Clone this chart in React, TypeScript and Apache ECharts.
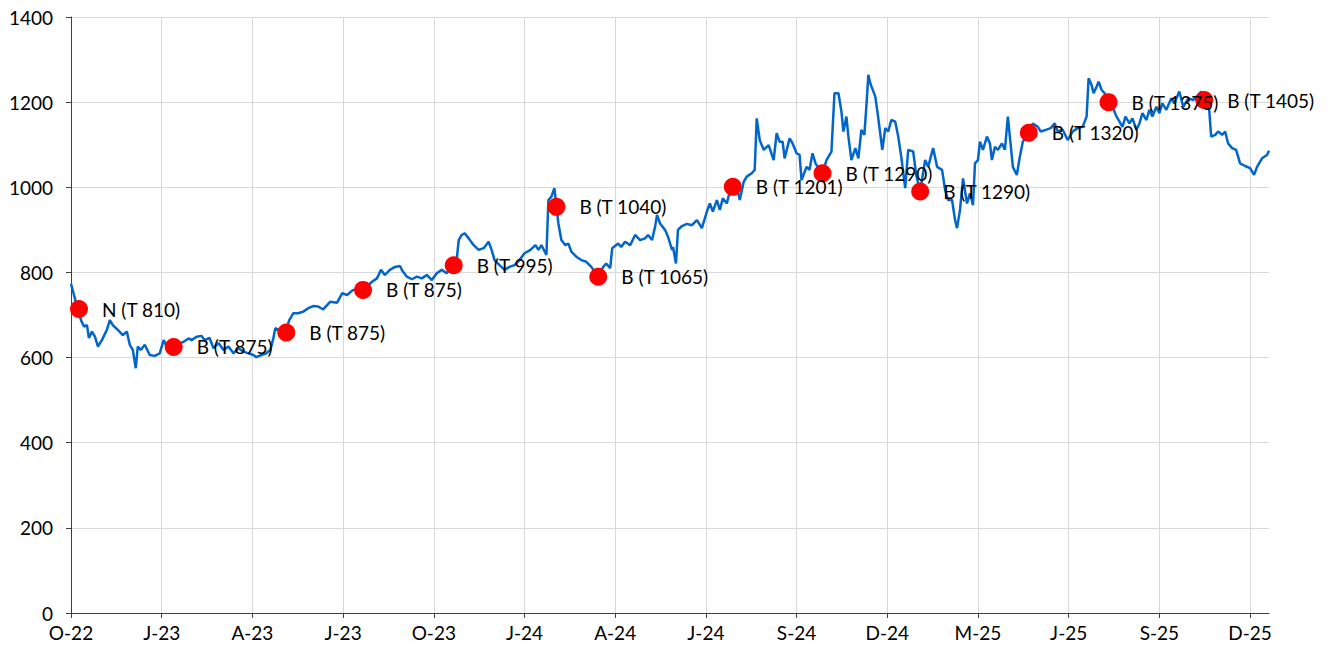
import React, { useEffect, useRef } from "react";
import * as echarts from "echarts";

// Day offsets counted from 2022-10-03 (the first axis tick, "O-22")
const START_UTC = Date.UTC(2022, 9, 3);
const TICK_DAYS = 91;
const X_MAX = 1202;
const MONTH_LETTERS = ["J", "F", "M", "A", "M", "J", "J", "A", "S", "O", "N", "D"];

const priceDays = [
  0, 3, 7, 10, 13, 16, 18, 21, 24, 27, 31, 36, 39, 42, 47, 52, 56, 59, 62, 65, 67, 70, 74, 79, 84, 89, 93, 96, 103,
  113, 118, 121, 126, 131, 134, 139, 143, 148, 153, 158, 163, 168, 173, 178, 183, 186, 191, 196, 200, 203, 205, 208,
  215, 219, 223, 228, 233, 238, 243, 248, 253, 260, 267, 272, 277, 283, 293, 302, 307, 311, 315, 320, 325, 330, 333,
  337, 342, 347, 352, 357, 362, 367, 372, 377, 384, 386, 389, 392, 395, 399, 404, 409, 414, 419, 422, 425, 430, 435,
  440, 445, 450, 455, 461, 466, 469, 472, 477, 479, 482, 485, 489, 492, 496, 499, 502, 507, 512, 517, 522, 529, 534,
  537, 541, 543, 549, 552, 556, 561, 566, 571, 576, 579, 583, 586, 588, 591, 596, 599, 603, 604, 607, 609, 613, 618,
  623, 628, 633, 638, 641, 644, 648, 651, 654, 658, 661, 664, 668, 671, 675, 678, 683, 686, 688, 691, 695, 700, 705,
  708, 711, 714, 716, 721, 724, 728, 731, 733, 738, 741, 744, 747, 754, 758, 763, 766, 770, 773, 775, 778, 780, 783,
  787, 790, 793, 796, 798, 800, 802, 807, 810, 814, 817, 820, 823, 827, 830, 833, 837, 840, 845, 848, 852, 857, 860,
  865, 869, 874, 877, 880, 884, 887, 889, 892, 895, 899, 902, 905, 907, 910, 912, 915, 919, 922, 924, 927, 930, 934,
  937, 940, 942, 945, 949, 952, 955, 961, 965, 970, 973, 978, 983, 987, 990, 995, 1000, 1005, 1010, 1015, 1019, 1021,
  1024, 1026, 1029, 1031, 1034, 1037, 1041, 1045, 1049, 1052, 1055, 1058, 1062, 1065, 1069, 1072, 1075, 1079, 1082,
  1085, 1089, 1092, 1095, 1099, 1104, 1107, 1112, 1116, 1121, 1126, 1131, 1134, 1137, 1139, 1142, 1144, 1148, 1151,
  1155, 1158, 1161, 1165, 1169, 1173, 1178, 1183, 1187, 1190, 1195, 1200, 1202,
];

const priceValues = [
  773, 747, 713, 688, 673, 676, 646, 661, 649, 626, 641, 665, 688, 676, 665, 653, 661, 630, 618, 575, 626, 618, 630,
  606, 604, 610, 641, 626, 628, 637, 645, 641, 649, 651, 641, 646, 622, 634, 618, 626, 610, 622, 614, 610, 606, 601,
  606, 610, 618, 645, 669, 665, 659, 688, 704, 704, 708, 716, 721, 720, 713, 731, 729, 751, 747, 759, 759, 778, 786,
  806, 794, 806, 813, 815, 802, 790, 784, 790, 786, 794, 782, 798, 806, 798, 817, 806, 876, 888, 892, 880, 864, 853,
  857, 872, 853, 829, 817, 806, 813, 817, 829, 845, 853, 864, 853, 864, 841, 970, 978, 998, 915, 876, 864, 868, 849,
  837, 829, 825, 813, 790, 813, 821, 810, 857, 868, 860, 872, 864, 888, 876, 880, 888, 876, 907, 935, 915, 900, 884,
  853, 860, 821, 900, 909, 914, 911, 923, 904, 943, 962, 943, 970, 947, 974, 962, 990, 1001, 1001, 970, 1013, 1025,
  1033, 1041, 1162, 1111, 1088, 1099, 1064, 1127, 1107, 1107, 1068, 1115, 1103, 1080, 1076, 1017, 1048, 1041, 1080,
  1056, 1033, 1064, 1084, 1221, 1221, 1178, 1131, 1166, 1119, 1064, 1092, 1068, 1135, 1123, 1189, 1264, 1244, 1213,
  1162, 1088, 1139, 1131, 1158, 1154, 1119, 1072, 998, 1088, 1084, 1029, 990, 1064, 1048, 1092, 1048, 1041, 994, 970,
  970, 923, 904, 947, 1021, 962, 986, 958, 1056, 1064, 1107, 1088, 1119, 1103, 1064, 1095, 1088, 1103, 1088, 1166,
  1119, 1048, 1029, 1072, 1107, 1128, 1150, 1142, 1131, 1135, 1139, 1150, 1131, 1135, 1111, 1131, 1139, 1142, 1166,
  1256, 1240, 1221, 1236, 1248, 1229, 1221, 1200, 1189, 1166, 1154, 1142, 1166, 1150, 1162, 1135, 1150, 1174, 1158,
  1182, 1166, 1189, 1174, 1197, 1182, 1209, 1197, 1225, 1189, 1209, 1205, 1217, 1225, 1205, 1193, 1182, 1119, 1123,
  1131, 1123, 1131, 1103, 1092, 1088, 1056, 1050, 1045, 1029, 1048, 1068, 1076, 1086,
];

const markerDays = [8, 103, 216, 293, 384, 487, 529, 664, 754, 852, 961, 1041, 1137];
const markerValues = [714, 625, 659, 759, 817, 954, 790, 1001, 1033, 990, 1128, 1200, 1205];
const markerLabels = [
  "N (T 810)",
  "B (T 875)",
  "B (T 875)",
  "B (T 875)",
  "B (T 995)",
  "B (T 1040)",
  "B (T 1065)",
  "B (T 1201)",
  "B (T 1290)",
  "B (T 1290)",
  "B (T 1320)",
  "B (T 1375)",
  "B (T 1405)",
];

const Y_MIN = 0;
const Y_MAX = 1400;
const Y_STEP = 200;

function dayLabel(d: number): string {
  if (d % TICK_DAYS !== 0) return "";
  const dt = new Date(START_UTC + d * 86400000);
  const yy = String(dt.getUTCFullYear() % 100).padStart(2, "0");
  return MONTH_LETTERS[dt.getUTCMonth()] + "-" + yy;
}

const FONT = "Lato, 'Liberation Sans', sans-serif";
const FS = 19;

export default function App() {
  const ref = useRef<HTMLDivElement>(null);

  useEffect(() => {
    if (!ref.current) return;
    const chart = echarts.init(ref.current, null, { renderer: "svg" });
    const linePoints = priceDays.map((d, i) => [d, priceValues[i]]);
    const markerPoints = markerDays.map((d, i) => ({
      value: [d, markerValues[i]],
      label: { formatter: markerLabels[i] },
    }));
    chart.setOption({
      animation: false,
      backgroundColor: "#ffffff",
      textStyle: { fontFamily: FONT },
      grid: { left: 71, right: 60, top: 17, bottom: 44, containLabel: false },
      xAxis: {
        type: "value",
        min: 0,
        max: X_MAX,
        interval: TICK_DAYS,
        axisLine: { show: true, onZero: false, lineStyle: { color: "#404040", width: 1 } },
        axisTick: { show: true, length: 5, lineStyle: { color: "#404040" } },
        axisLabel: {
          show: true,
          margin: 10,
          color: "#000",
          fontSize: FS,
          fontFamily: FONT,
          showMaxLabel: false,
          formatter: (v: number) => dayLabel(v),
        },
        splitLine: { show: true, showMaxLine: false, lineStyle: { color: "#D9D9D9", width: 1 } },
      },
      yAxis: {
        type: "value",
        min: Y_MIN,
        max: Y_MAX,
        interval: Y_STEP,
        axisLine: { show: true, lineStyle: { color: "#404040", width: 1 } },
        axisTick: { show: true, length: 5, lineStyle: { color: "#404040" } },
        axisLabel: {
          margin: 18,
          color: "#000",
          fontSize: FS,
          fontFamily: FONT,
          formatter: (v: number) => String(v),
        },
        splitLine: { show: true, lineStyle: { color: "#D9D9D9", width: 1 } },
      },
      series: [
        {
          type: "line",
          data: linePoints,
          showSymbol: false,
          symbol: "none",
          lineStyle: { color: "#0066CC", width: 2.5 },
          z: 2,
        },
        {
          type: "scatter",
          data: markerPoints,
          symbol: "circle",
          symbolSize: 18,
          itemStyle: { color: "#FF0000", opacity: 1 },
          label: {
            show: true,
            position: "right",
            distance: 14,
            color: "#000",
            fontSize: FS,
            fontFamily: FONT,
          },
          z: 3,
        },
      ],
    });
    return () => chart.dispose();
  }, []);

  return <div ref={ref} style={{ width: 1329, height: 657, position: "absolute", left: 0, top: 0 }} />;
}
